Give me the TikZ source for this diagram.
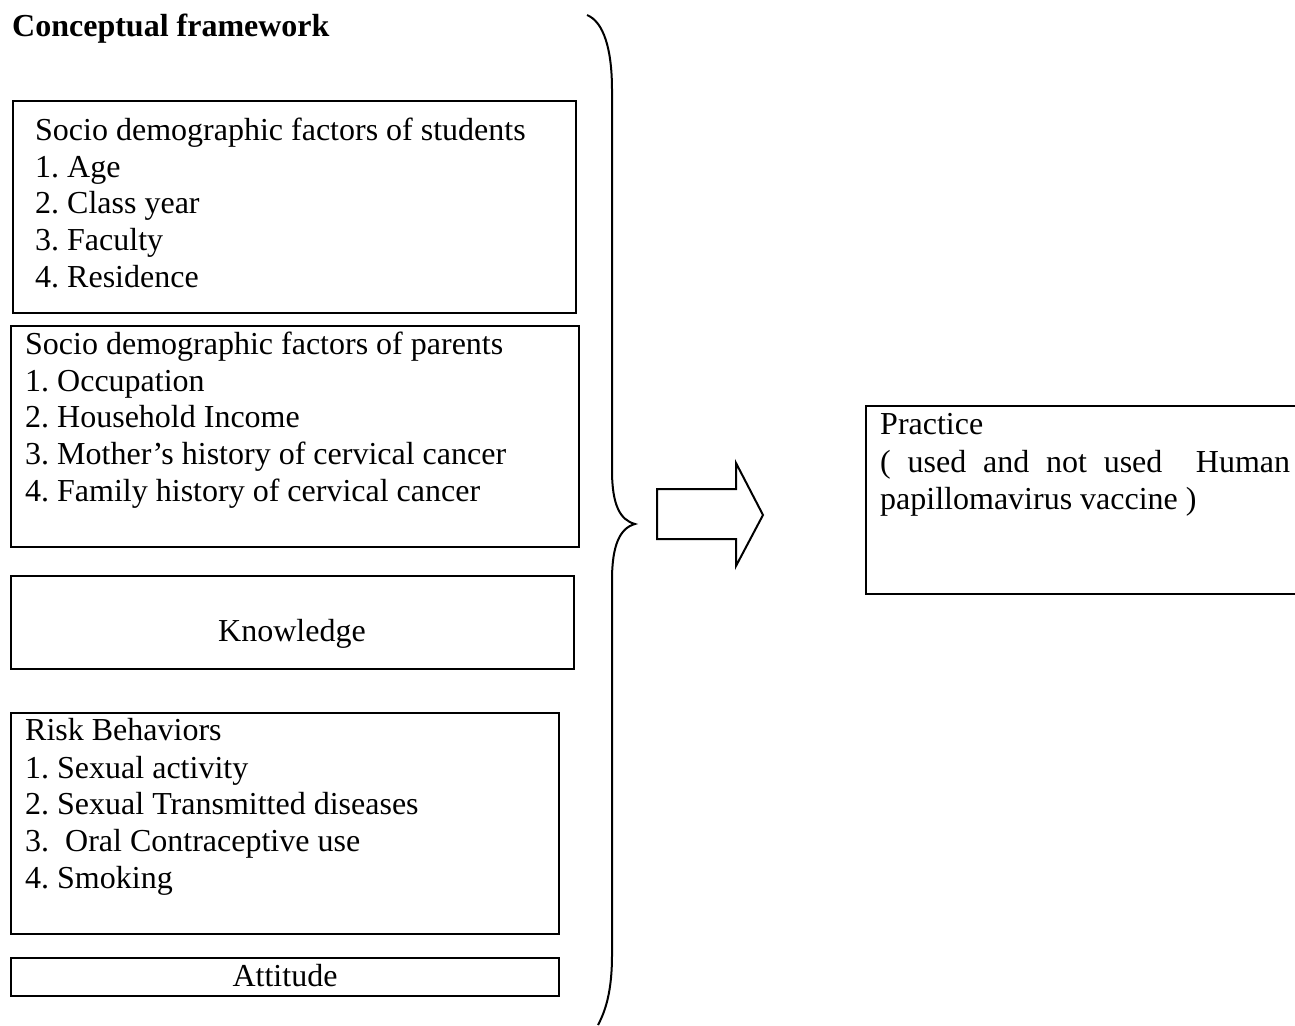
\documentclass[tikz,border=0pt]{standalone}
\usepackage{fontspec}
\setmainfont{Liberation Serif}
\frenchspacing
\begin{document}
\begin{tikzpicture}[x=1pt,y=-1pt,
  boxst/.style={draw,line width=2pt,inner sep=0pt},
  txt/.style={anchor=base west,inner sep=0pt,font=\fontsize{32}{37}\selectfont},
  ctxt/.style={anchor=base,inner sep=0pt,font=\fontsize{32}{37}\selectfont}]
\useasboundingbox (0,0) rectangle (1295,1025);
\node[anchor=base west,inner sep=0pt,font=\fontsize{32}{37}\selectfont\bfseries] (title) at (12,37) {Conceptual framework};
% boxes
\node[boxst,anchor=north west,minimum width=563pt,minimum height=212pt] (stud) at (12,100) {};
\node[boxst,anchor=north west,minimum width=568pt,minimum height=221pt] (par) at (10,325) {};
\node[boxst,anchor=north west,minimum width=563pt,minimum height=93pt] (know) at (10,575) {};
\node[boxst,anchor=north west,minimum width=548pt,minimum height=221pt] (risk) at (10,712) {};
\node[boxst,anchor=north west,minimum width=548pt,minimum height=38pt] (att) at (10,957) {};
\node[boxst,anchor=north west,minimum width=440pt,minimum height=188pt] (prac) at (865,405) {};
% students
\node[txt] (s0) at (35,140) {Socio demographic factors of students};
\node[txt] (s1) at (35,177) {1. Age};
\node[txt] (s2) at (35,213) {2. Class year};
\node[txt] (s3) at (35,250) {3. Faculty};
\node[txt] (s4) at (35,287) {4. Residence};
% parents
\node[txt] (p0) at (25,354) {Socio demographic factors of parents};
\node[txt] (p1) at (25,391) {1. Occupation};
\node[txt] (p2) at (25,427) {2. Household Income};
\node[txt] (p3) at (25,464) {3. Mother’s history of cervical cancer};
\node[txt] (p4) at (25,501) {4. Family history of cervical cancer};
% knowledge
\node[ctxt] (k0) at (292,641) {Knowledge};
% risk
\node[txt] (r0) at (25,740) {Risk Behaviors};
\node[txt] (r1) at (25,778) {1. Sexual activity};
\node[txt] (r2) at (25,814) {2. Sexual Transmitted diseases};
\node[txt] (r3) at (25,851) {3.\ \ Oral Contraceptive use};
\node[txt] (r4) at (25,888) {4. Smoking};
% attitude
\node[ctxt] (a0) at (285,986) {Attitude};
% practice
\node[txt] (q0) at (880,434) {Practice};
\node[txt] (q1) at (880,472) {\makebox[410pt][s]{( used and not used \ Human}};
\node[txt] (q2) at (880,509) {papillomavirus vaccine )};
% brace
\draw[line width=2pt] (587,15) .. controls (604,22) and (612,50) .. (612,90) -- (612,470)
  .. controls (612,505) and (620,520) .. (635,524)
  .. controls (620,528) and (612,545) .. (612,580) -- (612,955)
  .. controls (612,990) and (606,1010) .. (598,1025);
% block arrow
\draw[line width=2pt,line join=miter] (657,489) -- (736,489) -- (736,463) -- (763,515) -- (736,566) -- (736,539) -- (657,539) -- cycle;
\end{tikzpicture}
\end{document}
